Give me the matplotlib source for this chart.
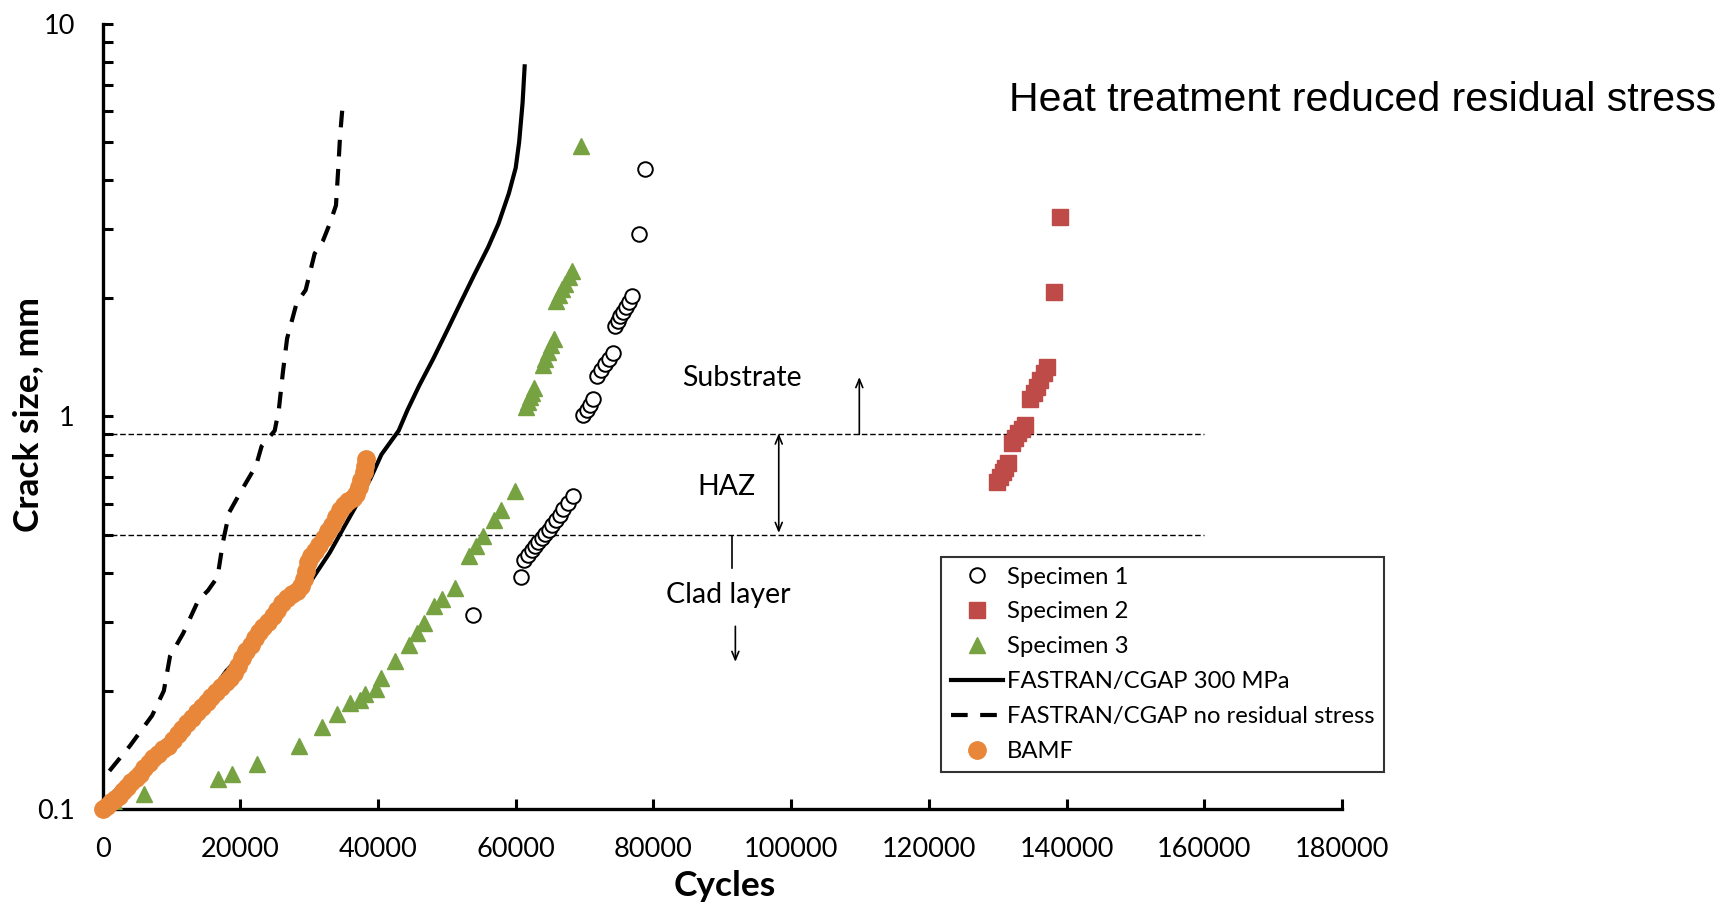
import matplotlib.pyplot as plt
from matplotlib.ticker import FixedLocator, FixedFormatter, NullFormatter

# --- Data ---
spec1_x = [53860, 60820, 61270, 61800, 62300, 62800, 63300, 63800, 64300, 64800, 65300,
           65800, 66400, 66900, 67600, 68340,
           69840, 70300, 70800, 71270,
           71790, 72350, 72900, 73500, 74060,
           74380, 74800, 75200, 75600, 76000, 76450, 76850,
           77950, 78730]
spec1_y = [0.312, 0.390, 0.432, 0.444, 0.456, 0.468, 0.479, 0.490, 0.502, 0.515, 0.530,
           0.545, 0.562, 0.580, 0.603, 0.628,
           1.01, 1.04, 1.07, 1.106,
           1.27, 1.31, 1.36, 1.40, 1.45,
           1.70, 1.75, 1.80, 1.85, 1.90, 1.96, 2.03,
           2.91, 4.27]

spec2_x = [129950, 130300, 130700, 131100, 131550,
           132040, 132500, 133000, 133500, 133970,
           134700, 135200, 135700, 136200, 136700, 137210,
           138130, 139060]
spec2_y = [0.68, 0.70, 0.72, 0.74, 0.76,
           0.855, 0.88, 0.91, 0.93, 0.95,
           1.11, 1.15, 1.19, 1.24, 1.29, 1.34,
           2.07, 3.22]

spec3_x = [1950, 6020, 16710, 18830, 22390, 28460, 31920, 33980, 35930, 37320, 38150,
           39660, 40380, 42500, 44560, 45670, 46670, 48070, 49290, 51240, 53190, 54300,
           55310, 56810, 57820, 59880,
           61500, 61800, 62100, 62400, 62700,
           63900, 64300, 64700, 65100, 65500,
           65900, 66300, 66700, 67200, 67700, 68200,
           69500]
spec3_y = [0.102, 0.109, 0.119, 0.123, 0.130, 0.145, 0.162, 0.175, 0.186, 0.190, 0.196,
           0.202, 0.216, 0.238, 0.262, 0.281, 0.298, 0.329, 0.342, 0.366, 0.441, 0.467,
           0.495, 0.546, 0.579, 0.644,
           1.06, 1.09, 1.12, 1.15, 1.18,
           1.35, 1.40, 1.46, 1.52, 1.58,
           1.97, 2.04, 2.11, 2.18, 2.26, 2.35,
           4.9]

fastran_x = [0, 1000, 3000, 6000, 9000, 12000, 15000, 18000, 21000, 24000, 27000, 30000,
             33000, 35000, 37000, 39000, 40500, 42000, 43000, 44300, 46000, 48000, 50000,
             52000, 54000, 56000, 57500, 59000, 60000, 60500, 61000, 61300]
fastran_y = [0.100, 0.107, 0.117, 0.130, 0.147, 0.167, 0.190, 0.225, 0.255, 0.290, 0.330,
             0.375, 0.450, 0.520, 0.600, 0.700, 0.800, 0.870, 0.920, 1.04, 1.20, 1.40, 1.65,
             1.95, 2.30, 2.70, 3.10, 3.70, 4.30, 5.00, 6.30, 7.80]

nors_x = [1000, 4000, 7200, 8900, 9800, 11700, 13900, 15300, 16700, 17500, 18400, 20000,
          22300, 23100, 25000, 25600, 26200, 26800, 28200, 29500, 30800, 32000, 33000,
          33900, 34200, 34500, 34900]
nors_y = [0.125, 0.145, 0.173, 0.200, 0.245, 0.280, 0.340, 0.360, 0.390, 0.480, 0.570, 0.640,
          0.750, 0.840, 0.920, 1.04, 1.30, 1.58, 1.95, 2.10, 2.60, 2.80, 3.10,
          3.45, 4.20, 5.20, 6.30]

bamf_x = [0, 600, 1200, 1800, 2400, 3000, 3600, 4200, 4800, 5400, 6000, 6700, 7400, 8100,
          8800, 9500, 10200, 10900, 11600, 12300, 13000, 13700, 14400, 15100, 15800, 16500,
          17200, 17900, 18500, 19100, 19700, 20300, 20900, 21500, 22100, 22700, 23300, 24000,
          24700, 25400, 26100, 26800, 27500, 28200, 28800, 29200, 29500, 29800, 30300, 30900,
          31500, 32100, 32700, 33300, 33900, 34500, 35100, 35700, 36300, 36800, 37300, 37600,
          37900, 38100, 38300]
bamf_y = [0.100, 0.102, 0.104, 0.106, 0.108, 0.111, 0.114, 0.117, 0.120, 0.123, 0.127, 0.131,
          0.135, 0.138, 0.142, 0.145, 0.150, 0.155, 0.160, 0.166, 0.171, 0.177, 0.182, 0.187,
          0.193, 0.199, 0.205, 0.211, 0.216, 0.222, 0.232, 0.243, 0.252, 0.262, 0.272, 0.283,
          0.291, 0.300, 0.310, 0.322, 0.334, 0.345, 0.353, 0.360, 0.370, 0.385, 0.405, 0.425,
          0.440, 0.455, 0.470, 0.490, 0.510, 0.530, 0.555, 0.578, 0.595, 0.610, 0.620, 0.635,
          0.660, 0.690, 0.720, 0.750, 0.780]

layer_bounds = [0.9, 0.5]
x_ticks = [0, 20000, 40000, 60000, 80000, 100000, 120000, 140000, 160000, 180000]
y_ticks = [0.1, 1, 10]
y_labels = ['0.1', '1', '10']

# --- Plotting ---
plt.rcParams['font.family'] = ['Lato', 'DejaVu Sans']
fig = plt.figure(figsize=(17.35, 9.05), dpi=100)
ax = fig.add_axes([0.0591, 0.1061, 0.7144, 0.8674])

green = '#77A242'
red = '#BE4B48'
orange = '#E8873A'

ax.plot(spec1_x, spec1_y, 'o', ms=10.5, mfc='white', mec='black', mew=1.4,
        label='Specimen 1', zorder=4)
ax.plot(spec2_x, spec2_y, 's', ms=11.5, color=red, mec=red, label='Specimen 2', zorder=4)
ax.plot(spec3_x, spec3_y, '^', ms=11.5, color=green, mec=green, label='Specimen 3', zorder=4)
ax.plot(fastran_x, fastran_y, '-', color='black', lw=3, label='FASTRAN/CGAP 300 MPa', zorder=3)
ax.plot(nors_x, nors_y, '--', color='black', lw=3, dashes=(4, 3),
        label='FASTRAN/CGAP no residual stress', zorder=3)
ax.plot(bamf_x, bamf_y, 'o', ms=12.5, color=orange, mec=orange, label='BAMF',
        zorder=5, clip_on=False)

# layer boundaries
for yb in layer_bounds:
    ax.plot([0, 160000], [yb, yb], color='black', lw=1, linestyle=(0, (4, 2)), zorder=2)

# annotations
arrow = dict(arrowstyle='->,head_length=0.6,head_width=0.25', lw=1.2, color='black',
             shrinkA=0, shrinkB=0)
ax.text(92800, 1.25, 'Substrate', fontsize=20.5, ha='center', va='center')
ax.text(90600, 0.663, 'HAZ', fontsize=20.5, ha='center', va='center')
ax.text(90900, 0.35, 'Clad layer', fontsize=20.5, ha='center', va='center')
ax.annotate('', xy=(109900, 1.26), xytext=(109900, 0.9), arrowprops=arrow)
ax.annotate('', xy=(98200, 0.905), xytext=(98200, 0.505),
            arrowprops=dict(arrow, arrowstyle='<->,head_length=0.6,head_width=0.25'))
ax.plot([91400, 91400], [0.495, 0.41], color='black', lw=1.2)
ax.annotate('', xy=(91900, 0.237), xytext=(91900, 0.292), arrowprops=arrow)

# axes
ax.set_yscale('log')
ax.set_xlim(0, 180000)
ax.set_ylim(0.1, 10)
ax.spines['top'].set_visible(False)
ax.spines['right'].set_visible(False)
ax.spines['left'].set_linewidth(2.4)
ax.spines['bottom'].set_linewidth(2.4)
ax.xaxis.set_major_locator(FixedLocator(x_ticks))
ax.yaxis.set_major_locator(FixedLocator(y_ticks))
ax.yaxis.set_major_formatter(FixedFormatter(y_labels))
ax.yaxis.set_minor_locator(FixedLocator([0.2, 0.3, 0.4, 0.5, 0.6, 0.7, 0.8, 0.9,
                                         2, 3, 4, 5, 6, 7, 8, 9]))
ax.yaxis.set_minor_formatter(NullFormatter())
ax.tick_params(axis='both', which='both', direction='in', length=7, width=2.2,
               labelsize=19.5, pad=20)
ax.tick_params(axis='x', which='minor', length=0)

ax.set_xlabel('Cycles', fontsize=25.5, fontweight='bold')
ax.set_ylabel('Crack size, mm', fontsize=25.5, fontweight='bold')
ax.xaxis.set_label_coords(0.502, -0.078)
ax.yaxis.set_label_coords(-0.047, 0.502)

fig.text(0.5816, 0.889, 'Heat treatment reduced residual stress', fontsize=29.5,
         family='Liberation Sans', ha='left', va='center')

leg = ax.legend(loc='upper left', bbox_to_anchor=(0.5421, 0.385),
                bbox_transform=fig.transFigure, fontsize=17.2, frameon=True,
                fancybox=False, edgecolor='black', handlelength=2.2,
                handletextpad=0.15, labelspacing=0.58, borderpad=0.42, borderaxespad=0)
leg.get_frame().set_linewidth(1.5)

plt.savefig('out.png', dpi=100)
